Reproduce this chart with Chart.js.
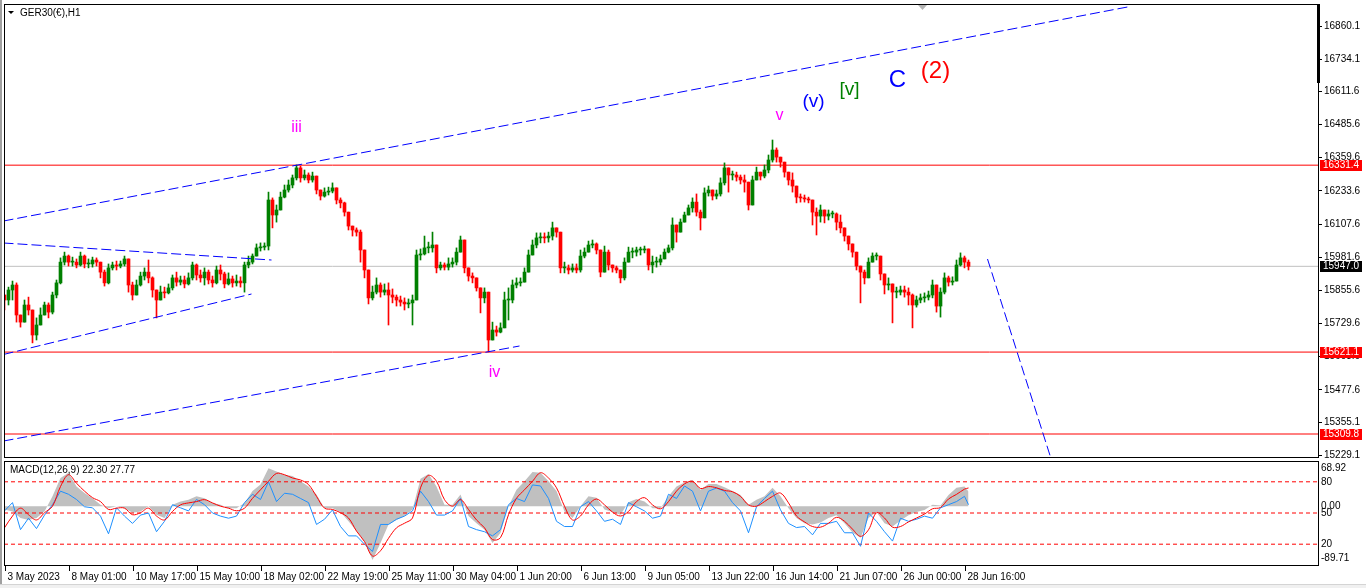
<!DOCTYPE html>
<html>
<head>
<meta charset="utf-8">
<script src="https://cdn.jsdelivr.net/npm/chart.js@4.4.0/dist/chart.umd.min.js"></script>
<style>
  html, body { margin: 0; padding: 0; background: #fff; }
  body { width: 1366px; height: 588px; position: relative; overflow: hidden; }
  #priceWrap { position: absolute; left: 0; top: -10px; width: 1366px; height: 480px; }
  #macdWrap { position: absolute; left: 0; top: 458px; width: 1366px; height: 130px; }
  #edge { position: absolute; left: 0; top: 0; width: 2px; height: 588px; background: #a0a0a0; }
  #foot { position: absolute; left: 0; top: 584px; width: 1366px; height: 4px; background: #f0f0f0; border-top: 1px solid #d4d4d4; }
</style>
</head>
<body>
<div id="priceWrap"><canvas id="priceChart"></canvas></div>
<div id="macdWrap"><canvas id="macdChart"></canvas></div>
<div id="edge"></div>
<div id="foot"></div>
<script>
// H1 candles (one candle here stands for a few hours)
const closes = [
  15819,15857,15876,15762,15735,15800,15781,15686,15724,15762,
  15800,15773,15838,15884,15963,15986,15963,15963,15952,15986,
  15956,15956,15971,15963,15925,15884,15941,15952,15948,15956,
  15975,15876,15838,15876,15910,15925,15903,15857,15819,15849,
  15846,15865,15903,15887,15895,15880,15903,15952,15914,15903,
  15925,15895,15884,15933,15918,15880,15899,15884,15891,15884,
  15952,15963,15986,16017,16020,16024,16199,16142,16161,16210,
  16237,16256,16283,16321,16283,16294,16275,16290,16237,16214,
  16229,16233,16245,16199,16188,16153,16100,16085,16077,16009,
  15933,15827,15849,15876,15849,15857,15838,15830,15819,15811,
  15804,15808,15819,15990,15994,16017,16017,16028,15941,15952,
  15944,15956,15963,16001,16047,15941,15910,15903,15865,15827,
  15849,15667,15705,15697,15713,15819,15819,15876,15884,15887,
  15925,15990,16028,16055,16058,16055,16062,16093,16077,15941,
  15941,15933,15941,15933,15986,16001,16028,16032,16009,15925,
  16001,15952,15941,15933,15903,15963,16001,16001,16009,16009,
  16013,15952,15963,15963,15975,16001,16017,16104,16077,16115,
  16142,16169,16191,16153,16131,16226,16237,16214,16222,16264,
  16321,16294,16294,16286,16275,16267,16180,16275,16305,16290,
  16313,16351,16389,16362,16343,16305,16275,16252,16210,16207,
  16203,16199,16153,16138,16161,16138,16146,16146,16115,16093,
  16062,16032,16001,15948,15925,15903,15963,15986,15986,15918,
  15876,15880,15849,15849,15857,15849,15838,15800,15819,15827,
  15830,15838,15876,15796,15849,15903,15887,15891,15952,15979,
  15963,15947
];
const highs = [
  15838,15868,15891,15884,15762,15819,15830,15762,15751,15789,
  15811,15808,15849,15895,15979,16001,15990,15982,15975,16001,
  15990,15975,15982,15979,15963,15933,15956,15963,15967,15967,
  15986,15963,15887,15895,15925,15941,15971,15907,15857,15872,
  15868,15880,15914,15925,15910,15910,15922,15963,15956,15933,
  15941,15933,15910,15948,15952,15925,15922,15910,15914,15907,
  15963,15986,15994,16032,16036,16036,16229,16207,16180,16229,
  16256,16275,16294,16332,16328,16313,16302,16305,16290,16237,
  16245,16248,16264,16237,16207,16191,16153,16100,16093,16085,
  15990,15910,15872,15903,15884,15880,15884,15861,15838,15834,
  15827,15823,15838,16009,16013,16062,16039,16077,16028,15963,
  15960,15979,15979,16017,16062,16047,15937,15922,15895,15865,
  15865,15819,15735,15720,15732,15849,15865,15895,15903,15903,
  15941,16009,16047,16074,16074,16074,16077,16115,16093,16028,
  15963,15952,15956,15956,16009,16017,16043,16047,16036,16009,
  16024,16009,15952,15948,15933,15979,16020,16017,16020,16020,
  16024,16009,15986,15982,15990,16013,16028,16131,16100,16127,
  16153,16180,16207,16222,16161,16245,16252,16237,16237,16283,
  16340,16321,16309,16305,16294,16294,16256,16290,16324,16305,
  16332,16370,16427,16397,16359,16343,16290,16302,16237,16222,
  16218,16210,16199,16169,16180,16157,16161,16157,16150,16142,
  16093,16055,16017,15979,15948,15933,15979,15998,15998,15986,
  15910,15903,15876,15868,15872,15872,15865,15842,15834,15842,
  15846,15853,15895,15876,15865,15922,15910,15907,15971,15998,
  15986,15971
];
const lows = [
  15781,15800,15819,15735,15716,15743,15762,15656,15667,15724,
  15762,15751,15766,15827,15880,15952,15948,15948,15941,15948,
  15941,15941,15944,15948,15903,15872,15880,15933,15933,15941,
  15948,15849,15819,15846,15872,15895,15884,15830,15751,15819,
  15827,15842,15857,15872,15876,15865,15876,15895,15895,15887,
  15876,15880,15868,15880,15895,15865,15876,15868,15872,15868,
  15849,15941,15956,16001,16005,16009,16009,16093,16115,16169,
  16207,16229,16245,16275,16267,16275,16264,16267,16222,16199,
  16210,16218,16226,16184,16169,16138,16085,16062,16062,15963,
  15903,15804,15819,15842,15830,15838,15724,15808,15796,15796,
  15781,15789,15724,15857,15971,15990,15998,16001,15922,15933,
  15933,15933,15944,15952,16009,15922,15891,15884,15853,15770,
  15808,15622,15678,15682,15694,15716,15743,15808,15865,15872,
  15887,15941,16001,16017,16036,16036,16039,16047,16058,15922,
  15922,15918,15925,15922,15925,15979,16009,16017,15994,15907,
  15925,15933,15925,15922,15884,15895,15963,15979,15986,15990,
  15998,15933,15922,15944,15952,15982,15998,16009,16039,16077,
  16115,16142,16153,16138,16085,16131,16214,16199,16203,16214,
  16256,16229,16275,16271,16260,16229,16161,16199,16275,16275,
  16283,16302,16343,16343,16324,16286,16256,16229,16188,16191,
  16191,16188,16104,16066,16115,16112,16123,16131,16085,16074,
  16043,16009,15982,15933,15808,15880,15903,15971,15971,15895,
  15842,15857,15732,15827,15838,15830,15800,15713,15792,15808,
  15811,15819,15827,15773,15754,15842,15872,15876,15895,15948,
  15941,15933
];
const firstOpen = 15838;

// price axis
const priceTicks = [16860.1, 16734.1, 16611.6, 16485.6, 16359.6, 16233.6, 16107.6,
  15981.6, 15855.6, 15729.6, 15603.6, 15477.6, 15355.1, 15229.1];
const priceMin = 15222.4;
const priceMax = 16943.8;
const levelLines = [16331.4, 15621.1, 15309.8];
const bidPrice = 15947.0;

// trend lines, [candle index, price] at both ends
const trendLines = [
  [[-0.25, 16119.2], [280.75, 16932.4]],
  [[-0.25, 16035.6], [66.75, 15971.0]],
  [[-0.25, 15612.0], [61.75, 15841.8]],
  [[-0.25, 15283.2], [128.75, 15644.2]],
  [[245.75, 15974.8], [261.5, 15222.4]]
];

// wave count labels
const waveText = ["iii", "iv", "v", "(v)", "[v]", "C", "(2)"];
const waveIdx = [73, 122.5, 193.75, 202.25, 211.25, 223.25, 232.75];
const wavePrice = [16473, 15545, 16518, 16571, 16617, 16655, 16689];
const waveStyle = [
  { color: "#ff00ff", size: 16 }, { color: "#ff00ff", size: 16 }, { color: "#ff00ff", size: 16 },
  { color: "#0000ff", size: 19 }, { color: "#008000", size: 19 },
  { color: "#0000ff", size: 24 }, { color: "#ff0000", size: 24 }
];

// MACD(12,26,9) panel, one reading every second candle, last one on the final candle
const macdHist = [
  -5,-8,-18,-21,-18,-8,15,43,51,30,
  20,12,2,-3,0,-3,-10,-8,0,-13,
  -18,2,7,10,15,12,5,2,-3,-3,
  5,23,33,58,53,48,46,38,30,18,-3,
  -3,-9,-23,-38,-54,-82,-56,-28,-21,-15,
  -5,42,49,30,2,2,18,-15,-26,-36,
  -56,-41,0,25,38,52,51,38,23,-8,
  -18,0,15,13,-5,-9,-13,6,11,7,-3,
  -3,15,30,36,40,25,34,34,29,23,
  17,2,10,15,28,15,-3,-18,-26,-28,
  -25,-18,-14,-26,-40,-48,-18,-9,-26,-31,
  -22,-14,-9,-6,2,1,17,28,30,
  22.3
];
const macdSignal = [
  -33,-15,-3,-13,-21,-10,0,30,48,35,
  23,13,7,-5,-3,-3,-13,-10,-3,-15,
  -21,-8,2,5,7,10,5,0,-3,-7,
  -3,12,25,38,50,48,43,40,33,15,-3,
  -5,-10,-18,-38,-54,-76,-68,-49,-33,-26,
  -18,28,47,38,10,0,10,-5,-21,-33,
  -51,-48,-13,12,25,38,51,43,28,0,
  -21,-15,2,11,2,-9,-15,-8,7,13,2,
  -4,7,23,34,38,27,30,28,24,22,
  15,2,0,7,15,20,5,-15,-24,-31,
  -32,-26,-17,-23,-35,-46,-36,-10,-18,-32,
  -31,-24,-18,-12,-4,-2,11,18,26,
  27.77
];
const oscLine = [
  52,60,34,45,35,48,58,71,68,63,
  56,55,47,30,55,47,40,48,50,32,
  42,58,55,52,63,58,50,47,45,47,
  60,68,63,80,61,69,68,64,60,39,44,
  53,37,28,28,20,13,39,39,44,47,
  52,71,61,48,48,52,64,37,34,32,
  28,34,58,64,61,77,76,64,42,37,
  37,56,61,52,42,44,39,60,56,52,45,
  47,68,64,76,71,52,71,74,71,60,
  52,31,56,64,71,53,40,36,37,29,
  40,40,42,31,31,18,50,42,32,23,
  45,42,44,47,45,55,58,61,66,
  58
];
const macdMin = -89.71;
const macdMax = 68.92;
const oscLevels = [80, 50, 20];

// time axis
const timeTickIdx = [0, 16, 32, 48, 64, 80, 96, 112, 128, 144, 160, 176, 192, 208, 224, 240];
const timeTickText = ["3 May 2023", "8 May 01:00", "10 May 17:00", "15 May 10:00", "18 May 02:00",
  "22 May 19:00", "25 May 11:00", "30 May 04:00", "1 Jun 20:00", "6 Jun 13:00", "9 Jun 05:00",
  "13 Jun 22:00", "16 Jun 14:00", "21 Jun 07:00", "26 Jun 00:00", "28 Jun 16:00"];

const UP = "#008000";
const DOWN = "#ff0000";
const FONT = "'Liberation Sans', Arial, sans-serif";
const X_MIN = -0.125;
const X_MAX = 328.375;

const opens = closes.map((c, i) => (i === 0 ? firstOpen : closes[i - 1]));
const bodies = closes.map((c, i) => ({ x: i, y: [opens[i], c] }));
const wicks = closes.map((c, i) => ({
  x: i,
  y: [Math.min(lows[i], opens[i], c), Math.max(highs[i], opens[i], c)],
}));
const candleColors = closes.map((c, i) => (c >= opens[i] ? UP : DOWN));

function flatLine(v) {
  return [{ x: X_MIN, y: v }, { x: X_MAX, y: v }];
}

const priceDatasets = [
  { type: "line", data: flatLine(bidPrice), borderColor: "#c0c0c0", borderWidth: 1, pointRadius: 0, order: 6 },
];
levelLines.forEach((v) => {
  priceDatasets.push({ type: "line", data: flatLine(v), borderColor: "#ff0000", borderWidth: 1, pointRadius: 0, order: 5 });
});
priceDatasets.push({
  type: "bar", data: wicks, backgroundColor: candleColors, barThickness: 1, grouped: false, order: 4,
});
priceDatasets.push({
  type: "bar", data: bodies, backgroundColor: candleColors, barThickness: 3, minBarLength: 1, grouped: false, order: 3,
});
trendLines.forEach((seg) => {
  priceDatasets.push({
    type: "line",
    data: seg.map((p) => ({ x: p[0], y: p[1] })),
    borderColor: "#0000ff", borderWidth: 1, borderDash: [10, 4], pointRadius: 0, order: 1,
  });
});

const priceDecor = {
  id: "priceDecor",
  afterDraw(chart) {
    const { ctx, chartArea: a, scales } = chart;
    ctx.save();
    // frame
    ctx.strokeStyle = "#000";
    ctx.lineWidth = 1;
    ctx.strokeRect(a.left + 0.5, a.top + 0.5, a.right - a.left, a.bottom - a.top);
    ctx.fillStyle = "#000";
    ctx.fillRect(a.right - 1, a.top, 3, 79);
    // chart shift marker
    ctx.fillStyle = "#b4b4b4";
    ctx.beginPath();
    ctx.moveTo(918, a.top + 1);
    ctx.lineTo(927, a.top + 1);
    ctx.lineTo(922.5, a.top + 6);
    ctx.closePath();
    ctx.fill();
    // title
    ctx.fillStyle = "#000";
    ctx.beginPath();
    ctx.moveTo(a.left + 4, a.top + 7);
    ctx.lineTo(a.left + 10, a.top + 7);
    ctx.lineTo(a.left + 7, a.top + 10);
    ctx.closePath();
    ctx.fill();
    ctx.font = "10px " + FONT;
    ctx.textBaseline = "middle";
    ctx.textAlign = "left";
    ctx.fillText("GER30(\u20ac),H1", a.left + 16, a.top + 9);
    // price tags on the axis
    const tags = levelLines.map((v) => ({ v, bg: "#ff0000" })).concat([{ v: bidPrice, bg: "#000" }]);
    tags.forEach((t) => {
      const y = scales.y.getPixelForValue(t.v);
      ctx.fillStyle = t.bg;
      ctx.fillRect(a.right + 2, Math.round(y) - 5, 42, 11);
      ctx.fillStyle = "#fff";
      ctx.fillText(t.v.toFixed(1), a.right + 5, Math.round(y) + 0.5);
    });
    // wave labels
    ctx.textAlign = "center";
    waveText.forEach((txt, i) => {
      ctx.font = waveStyle[i].size + "px " + FONT;
      ctx.fillStyle = waveStyle[i].color;
      ctx.fillText(txt, scales.x.getPixelForValue(waveIdx[i]), scales.y.getPixelForValue(wavePrice[i]));
    });
    ctx.restore();
  },
};

new Chart(document.getElementById("priceChart"), {
  type: "bar",
  data: { datasets: priceDatasets },
  options: {
    responsive: true,
    maintainAspectRatio: false,
    animation: false,
    events: [],
    layout: { padding: { left: 4, top: 14, right: 0, bottom: 13 } },
    plugins: { legend: { display: false }, tooltip: { enabled: false } },
    scales: {
      x: { type: "linear", min: X_MIN, max: X_MAX, offset: false, display: false },
      y: {
        position: "right",
        min: priceMin,
        max: priceMax,
        afterBuildTicks: (s) => { s.ticks = priceTicks.map((v) => ({ value: v })); },
        afterFit: (s) => { s.width = 48; },
        ticks: {
          autoSkip: false,
          color: "#000",
          padding: 2,
          font: { family: FONT, size: 10 },
          callback: (v) => Number(v).toFixed(1),
        },
        grid: { drawOnChartArea: false, tickLength: 4, color: "#000" },
        border: { color: "#000" },
      },
    },
  },
  plugins: [priceDecor],
});

// MACD panel
const macdX = (k) => (k < macdHist.length - 1 ? k * 2 : closes.length - 1);
const macdDecor = {
  id: "macdDecor",
  afterDraw(chart) {
    const { ctx, chartArea: a, scales } = chart;
    ctx.save();
    ctx.strokeStyle = "#000";
    ctx.lineWidth = 1;
    ctx.strokeRect(a.left + 0.5, a.top + 0.5, a.right - a.left, a.bottom - a.top);
    ctx.font = "10px " + FONT;
    ctx.fillStyle = "#000";
    ctx.textBaseline = "middle";
    ctx.textAlign = "left";
    ctx.fillText("MACD(12,26,9) 22.30 27.77", a.left + 6, a.top + 9);
    const rx = a.right + 3;
    ctx.fillText(macdMax.toFixed(2), rx, scales.y.getPixelForValue(macdMax) + 7);
    ctx.fillText("0.00", rx, scales.y.getPixelForValue(0));
    ctx.fillText(macdMin.toFixed(2), rx, scales.y.getPixelForValue(macdMin) - 7);
    oscLevels.forEach((v) => ctx.fillText(String(v), rx, scales.y2.getPixelForValue(v)));
    // time axis
    timeTickIdx.forEach((idx, i) => {
      const x = Math.round(scales.x.getPixelForValue(idx)) + 0.5;
      ctx.beginPath();
      ctx.moveTo(x, a.bottom);
      ctx.lineTo(x, a.bottom + 6);
      ctx.stroke();
      ctx.fillText(timeTickText[i], x + 2, a.bottom + 12);
    });
    ctx.restore();
  },
};

const macdDatasets = [
  {
    data: macdHist.map((v, k) => ({ x: macdX(k), y: v })),
    yAxisID: "y", fill: "origin", backgroundColor: "#c0c0c0", borderWidth: 0, pointRadius: 0, order: 5,
  },
];
oscLevels.forEach((v) => {
  macdDatasets.push({
    data: flatLine(v), yAxisID: "y2", borderColor: "#ff0000", borderWidth: 1, borderDash: [4, 3], pointRadius: 0, order: 4,
  });
});
macdDatasets.push({
  data: oscLine.map((v, k) => ({ x: macdX(k), y: v })),
  yAxisID: "y2", borderColor: "#1e90ff", borderWidth: 1, pointRadius: 0, tension: 0, order: 2,
});
macdDatasets.push({
  data: macdSignal.map((v, k) => ({ x: macdX(k), y: v })),
  yAxisID: "y", borderColor: "#ff0000", borderWidth: 1, pointRadius: 0, tension: 0.35, order: 1,
});

new Chart(document.getElementById("macdChart"), {
  type: "line",
  data: { datasets: macdDatasets },
  options: {
    responsive: true,
    maintainAspectRatio: false,
    animation: false,
    events: [],
    layout: { padding: { left: 4, top: 3, right: 48, bottom: 23 } },
    plugins: { legend: { display: false }, tooltip: { enabled: false } },
    scales: {
      x: { type: "linear", min: X_MIN, max: X_MAX, offset: false, display: false },
      y: { type: "linear", min: macdMin, max: macdMax, display: false },
      y2: { type: "linear", axis: "y", min: 0, max: 100, display: false },
    },
  },
  plugins: [macdDecor],
});
</script>
</body>
</html>
